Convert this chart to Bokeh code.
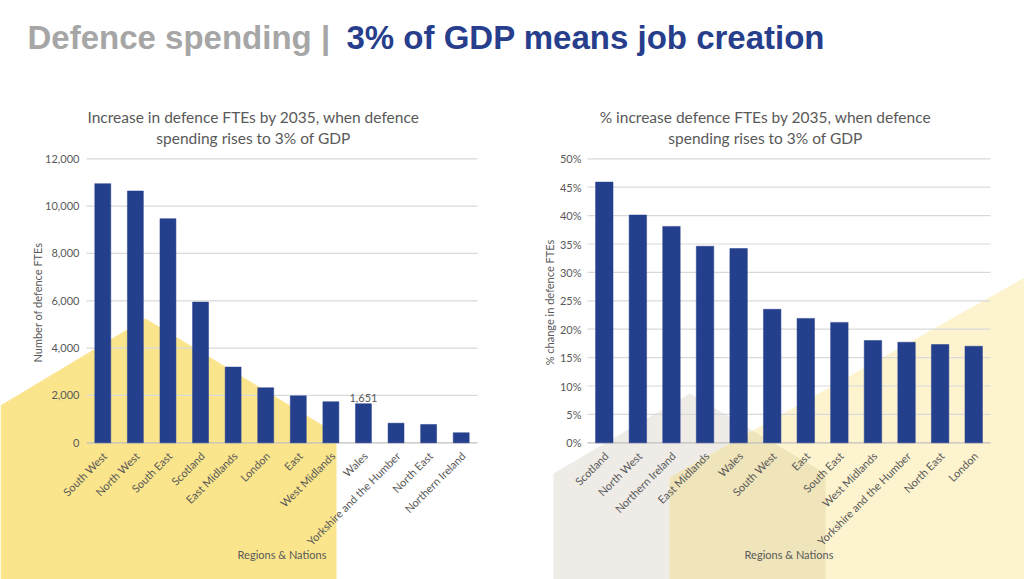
import math
from bokeh.plotting import figure
from bokeh.models import Range1d
from bokeh.core.properties import value
from bokeh.embed import file_html
from bokeh.resources import INLINE

# ---------------- data ----------------
left_regions = ["South West", "North West", "South East", "Scotland", "East Midlands",
                "London", "East", "West Midlands", "Wales", "Yorkshire and the Humber",
                "North East", "Northern Ireland"]
left_ftes = [10950, 10640, 9470, 5945, 3200, 2325, 1985, 1735, 1651, 830, 775, 425]
left_yticks = [0, 2000, 4000, 6000, 8000, 10000, 12000]
left_ytick_labels = ["0", "2,000", "4,000", "6,000", "8,000", "10,000", "12,000"]
left_labelled = ["Wales"]
left_labelled_text = ["1,651"]

right_regions = ["Scotland", "North West", "Northern Ireland", "East Midlands", "Wales",
                 "South West", "East", "South East", "West Midlands",
                 "Yorkshire and the Humber", "North East", "London"]
right_pct = [45.9, 40.1, 38.1, 34.6, 34.2, 23.5, 21.9, 21.2, 18.0, 17.7, 17.3, 17.0]
right_yticks = [0, 5, 10, 15, 20, 25, 30, 35, 40, 45, 50]
right_ytick_labels = ["0%", "5%", "10%", "15%", "20%", "25%", "30%", "35%", "40%", "45%", "50%"]

title_grey = "Defence spending |"
title_blue = "3% of GDP means job creation"
left_title = ["Increase in defence FTEs by 2035, when defence", "spending rises to 3% of GDP"]
right_title = ["% increase defence FTEs by 2035, when defence", "spending rises to 3% of GDP"]
left_ylabel = "Number of defence FTEs"
right_ylabel = "% change in defence FTEs"
xlabel = "Regions & Nations"

# ---------------- styling ----------------
W, H = 1024, 579
BAR = "#243F8C"
TXT = "#595959"
GRID = "#D9D9D9"
AXIS = "#BFBFBF"
FONT = value("Lato")
SMALL = "11px"

p = figure(width=W, height=H, x_range=Range1d(0, W), y_range=Range1d(H, 0),
           output_backend="svg", toolbar_location=None, min_border=0,
           x_axis_type=None, y_axis_type=None, outline_line_color=None)
p.background_fill_color = "white"
p.border_fill_color = "white"

# ---------------- decorative background shapes ----------------
p.patch(x=[0, 0, 145, 336, 336], y=[H, 405, 318, 433, H], fill_color="#FAE58C", line_color=None)

gray_x = [553, 553, 689, 825, 825]
gray_y = [H, 473, 393, 473, H]
p.patch(x=gray_x, y=gray_y, fill_color="#EFECE8", line_color=None)

yl_x0, yl_y0, yl_x1, yl_y1 = 669, 477, 1024, 277
p.patch(x=[yl_x0, yl_x0, yl_x1, yl_x1], y=[H, yl_y0, yl_y1, H], fill_color="#FDF4CF", line_color=None)

# overlap of the grey house and the yellow slope
m_y = (yl_y1 - yl_y0) / (yl_x1 - yl_x0)
m_g = (473 - 393) / (825 - 689)
xi = (393 - m_g * 689 - yl_y0 + m_y * yl_x0) / (m_y - m_g)
yi = yl_y0 + m_y * (xi - yl_x0)
p.patch(x=[yl_x0, yl_x0, xi, 825, 825], y=[H, yl_y0, yi, 473, H], fill_color="#EFE4BA", line_color=None)

# ---------------- main title ----------------
p.text(x=[27], y=[37], text=[title_grey], text_font=value("Liberation Sans"), text_font_style="bold",
       text_font_size="33px", text_color="#A6A6A6", text_baseline="alphabetic", text_align="left")
p.text(x=[346], y=[37], text=[title_blue], text_font=value("Liberation Sans"), text_font_style="bold",
       text_font_size="33px", text_color="#263E8C", text_baseline="alphabetic", text_align="left")


def chart(name, px0, px1, py0, pytop, regions, vals, ticks, tlabels, title, ylab, ylab_x, title_cx,
          bar_w, label_pad, labelled=(), labelled_text=()):
    n = len(regions)
    ux = n / (px1 - px0)
    p.extra_x_ranges[name + "x"] = Range1d(-px0 * ux, (W - px0) * ux)
    vmax = ticks[-1]
    uy = vmax / (py0 - pytop)
    p.extra_y_ranges[name + "y"] = Range1d(-(H - py0) * uy, py0 * uy)
    kw = dict(x_range_name=name + "x", y_range_name=name + "y")
    xs = [i + 0.5 for i in range(n)]

    # gridlines
    p.segment(x0=[0] * len(ticks), x1=[n] * len(ticks), y0=ticks, y1=ticks,
              line_color=[AXIS] + [GRID] * (len(ticks) - 1), line_width=1.2, **kw)
    # bars
    p.vbar(x=xs, top=vals, bottom=0, width=bar_w, fill_color=BAR, line_color=BAR, line_width=0.5, **kw)
    # y tick labels
    p.text(x=[0] * len(ticks), y=ticks, text=tlabels, text_align="right", text_baseline="middle",
           x_offset=-label_pad, text_font=FONT, text_font_size=SMALL, text_color=TXT, **kw)
    # x tick labels
    p.text(x=xs, y=[0] * n, text=regions, angle=math.pi / 4, text_align="right",
           text_baseline="middle", x_offset=2, y_offset=11, text_font=FONT,
           text_font_size=SMALL, text_color=TXT, **kw)
    # data labels
    for lab, t in zip(labelled, labelled_text):
        i = regions.index(lab)
        p.text(x=[xs[i]], y=[vals[i]], text=[t], text_align="center", text_baseline="bottom",
               y_offset=-2, text_font=FONT, text_font_size=SMALL, text_color=TXT, **kw)
    # titles
    p.text(x=[title_cx], y=[116], text=[title[0]], text_align="center", text_baseline="alphabetic",
           text_font=FONT, text_font_size="15.5px", text_color=TXT)
    p.text(x=[title_cx], y=[137], text=[title[1]], text_align="center", text_baseline="alphabetic",
           text_font=FONT, text_font_size="15.5px", text_color=TXT)
    p.text(x=[ylab_x], y=[302], text=[ylab], angle=math.pi / 2, text_align="center",
           text_baseline="middle", text_font=FONT, text_font_size=SMALL, text_color=TXT)
    p.text(x=[(px0 + px1) / 2], y=[554], text=[xlabel], text_align="center", text_baseline="middle",
           text_font=FONT, text_font_size=SMALL, text_color=TXT)


chart("l", 86, 477, 442.3, 158.3, left_regions, left_ftes, left_yticks, left_ytick_labels,
      left_title, left_ylabel, 37, 253, 0.49, 7, left_labelled, left_labelled_text)
chart("r", 587, 990, 442.3, 158.3, right_regions, right_pct, right_yticks, right_ytick_labels,
      right_title, right_ylabel, 549, 765, 0.52, 6)

open("out.html", "w").write(file_html(p, INLINE))
